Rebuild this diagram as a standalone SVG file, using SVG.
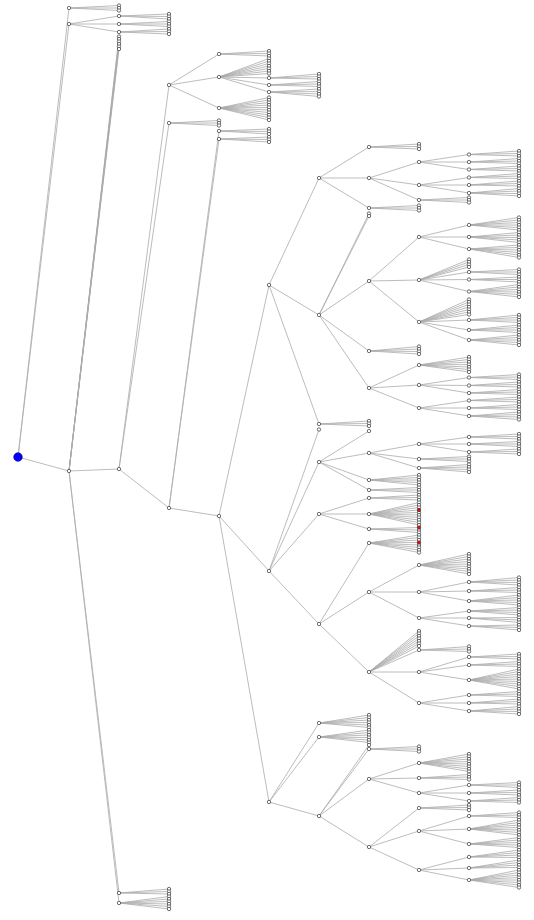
<svg xmlns="http://www.w3.org/2000/svg" width="534" height="920" viewBox="0 0 534 920">
<style>
.edges path{fill:none;stroke:#ababab;stroke-width:.8}
.nd{fill:#fff;stroke:#333;stroke-width:.7}
.nd .hit{fill:#ff0000}
</style>
<defs><circle id="n" r="1.7"/></defs>
<rect width="534" height="920" fill="#fff"/>
<!-- connectors: one path per parent, each subpath runs parent -> child -->
<g id="connectors" class="edges">
<path d="M18 457 69 8M18 457 69 24M18 457 69 471"/>
<path d="M69 8 119 5.5M69 8 119 8M69 8 119 10.5"/>
<path d="M69 24 119 16M69 24 119 24M69 24 119 32"/>
<path d="M69 471 119 36.5M69 471 119 39M69 471 119 41.5M69 471 119 44M69 471 119 46.5M69 471 119 49M69 471 119 469M69 471 119 893M69 471 119 903"/>
<path d="M119 16 169 14M119 16 169 16.5M119 16 169 19"/>
<path d="M119 24 169 21.5M119 24 169 24M119 24 169 26.5"/>
<path d="M119 32 169 29M119 32 169 31.5M119 32 169 34"/>
<path d="M119 469 169 85M119 469 169 123M119 469 169 508"/>
<path d="M119 893 169 889M119 893 169 891.5M119 893 169 894"/>
<path d="M119 903 169 896.5M119 903 169 899M119 903 169 901.5M119 903 169 904M119 903 169 906.5M119 903 169 909"/>
<path d="M169 85 219 54M169 85 219 77M169 85 219 108"/>
<path d="M169 123 219 120.5M169 123 219 123M169 123 219 125.5"/>
<path d="M169 508 219 131M169 508 219 139M169 508 219 516"/>
<path d="M219 54 269 51M219 54 269 53.5M219 54 269 56"/>
<path d="M219 77 269 58.5M219 77 269 61M219 77 269 63.5M219 77 269 66M219 77 269 68.5M219 77 269 71M219 77 269 73.5M219 77 269 78M219 77 269 85M219 77 269 92"/>
<path d="M219 108 269 97.5M219 108 269 100M219 108 269 102.5M219 108 269 105M219 108 269 107.5M219 108 269 110M219 108 269 112.5M219 108 269 115M219 108 269 117.5M219 108 269 120"/>
<path d="M219 131 269 129M219 131 269 131.5M219 131 269 134"/>
<path d="M219 139 269 137M219 139 269 139.5M219 139 269 142"/>
<path d="M269 78 319 74M269 78 319 76.5M269 78 319 79"/>
<path d="M269 85 319 81.5M269 85 319 84M269 85 319 86.5"/>
<path d="M269 92 319 89M269 92 319 91.5M269 92 319 94M269 92 319 96.5"/>
<path d="M219 516 269 285M219 516 269 571M219 516 269 802"/>
<path d="M269 285 319 178M269 285 319 315M269 285 319 424"/>
<path d="M269 571 319 429.5M269 571 319 462M269 571 319 514M269 571 319 624"/>
<path d="M269 802 319 723M269 802 319 737M269 802 319 816"/>
<path d="M319 178 369 147M319 178 369 178M319 178 369 208"/>
<path d="M319 315 369 213.5M319 315 369 216M319 315 369 281M319 315 369 351M319 315 369 388"/>
<path d="M319 424 369 421M319 424 369 423.5M319 424 369 426"/>
<path d="M319 462 369 431M319 462 369 453M319 462 369 480M319 462 369 490"/>
<path d="M319 514 369 498M319 514 369 514M319 514 369 529"/>
<path d="M319 624 369 543M319 624 369 592M319 624 369 672"/>
<path d="M319 723 369 715M319 723 369 717.5M319 723 369 720M319 723 369 722.5M319 723 369 725M319 723 369 727.5"/>
<path d="M319 737 369 730M319 737 369 732.5M319 737 369 735M319 737 369 737.5M319 737 369 740M319 737 369 742.5"/>
<path d="M319 816 369 745M319 816 369 749M319 816 369 779M319 816 369 847"/>
<path d="M369 147 419 144M369 147 419 146.5M369 147 419 149"/>
<path d="M369 178 419 162M369 178 419 185M369 178 419 200"/>
<path d="M369 208 419 205.5M369 208 419 208M369 208 419 210.5"/>
<path d="M369 281 419 237M369 281 419 280M369 281 419 322"/>
<path d="M369 351 419 346.5M369 351 419 349M369 351 419 351.5M369 351 419 354"/>
<path d="M369 388 419 365M369 388 419 385M369 388 419 408"/>
<path d="M369 453 419 444M369 453 419 459M369 453 419 468"/>
<path d="M369 480 419 475M369 480 419 477.5M369 480 419 480M369 480 419 482.5M369 480 419 485"/>
<path d="M369 490 419 487.5M369 490 419 490M369 490 419 492.5"/>
<path d="M369 498 419 495M369 498 419 497.5M369 498 419 500"/>
<path d="M369 514 419 502.5M369 514 419 505M369 514 419 507.5M369 514 419 510M369 514 419 512.5M369 514 419 515M369 514 419 517.5M369 514 419 520M369 514 419 522.5M369 514 419 525"/>
<path d="M369 529 419 527.5M369 529 419 530M369 529 419 532.5"/>
<path d="M369 543 419 535M369 543 419 537.5M369 543 419 540M369 543 419 542.5M369 543 419 545M369 543 419 547.5M369 543 419 550M369 543 419 552.5"/>
<path d="M369 592 419 565M369 592 419 592M369 592 419 618"/>
<path d="M369 672 419 631M369 672 419 633.5M369 672 419 636M369 672 419 638.5M369 672 419 641M369 672 419 643.5M369 672 419 646M369 672 419 650M369 672 419 672M369 672 419 703"/>
<path d="M369 749 419 746.5M369 749 419 749M369 749 419 751.5"/>
<path d="M369 779 419 763M369 779 419 778M369 779 419 793"/>
<path d="M369 847 419 808M369 847 419 831M369 847 419 870"/>
<path d="M419 162 469 154.5M419 162 469 162M419 162 469 169.5"/>
<path d="M419 185 469 177.5M419 185 469 185M419 185 469 193"/>
<path d="M419 200 469 197.5M419 200 469 200M419 200 469 202.5"/>
<path d="M419 237 469 225M419 237 469 237M419 237 469 249"/>
<path d="M419 280 469 259.5M419 280 469 262M419 280 469 264.5M419 280 469 267M419 280 469 272M419 280 469 279.5M419 280 469 291.5"/>
<path d="M419 322 469 299.5M419 322 469 302M419 322 469 304.5M419 322 469 307M419 322 469 309.5M419 322 469 312M419 322 469 314.5M419 322 469 320M419 322 469 330M419 322 469 340"/>
<path d="M419 365 469 357M419 365 469 359.5M419 365 469 362M419 365 469 364.5M419 365 469 367M419 365 469 369.5M419 365 469 372"/>
<path d="M419 385 469 377.5M419 385 469 385.5M419 385 469 393"/>
<path d="M419 408 469 400.5M419 408 469 408M419 408 469 416"/>
<path d="M419 444 469 437M419 444 469 444M419 444 469 452"/>
<path d="M419 459 469 456.5M419 459 469 459M419 459 469 461.5"/>
<path d="M419 468 469 464.5M419 468 469 467M419 468 469 469.5M419 468 469 472"/>
<path d="M419 565 469 554M419 565 469 556.5M419 565 469 559M419 565 469 561.5M419 565 469 564M419 565 469 566.5M419 565 469 569M419 565 469 571.5M419 565 469 574"/>
<path d="M419 592 469 582M419 592 469 591M419 592 469 601"/>
<path d="M419 618 469 611M419 618 469 618M419 618 469 626"/>
<path d="M419 650 469 646.5M419 650 469 649M419 650 469 651.5"/>
<path d="M419 672 469 657M419 672 469 665M419 672 469 680"/>
<path d="M419 703 469 695M419 703 469 703M419 703 469 711"/>
<path d="M419 763 469 754M419 763 469 756.5M419 763 469 759M419 763 469 761.5M419 763 469 764M419 763 469 766.5M419 763 469 769M419 763 469 771.5"/>
<path d="M419 778 469 774.5M419 778 469 777M419 778 469 779.5"/>
<path d="M419 793 469 785M419 793 469 793M419 793 469 801"/>
<path d="M419 808 469 805M419 808 469 807.5M419 808 469 810"/>
<path d="M419 831 469 816M419 831 469 829M419 831 469 844"/>
<path d="M419 870 469 857M419 870 469 868M419 870 469 880"/>
<path d="M469 154.5 519 151M469 154.5 519 153.5M469 154.5 519 156"/>
<path d="M469 162 519 158.5M469 162 519 161M469 162 519 163.5"/>
<path d="M469 169.5 519 166M469 169.5 519 168.5M469 169.5 519 171"/>
<path d="M469 177.5 519 173.5M469 177.5 519 176M469 177.5 519 178.5"/>
<path d="M469 185 519 181M469 185 519 183.5M469 185 519 186"/>
<path d="M469 193 519 188.5M469 193 519 191M469 193 519 193.5M469 193 519 196"/>
<path d="M469 225 519 217.5M469 225 519 220M469 225 519 222.5M469 225 519 225M469 225 519 227.5M469 225 519 230"/>
<path d="M469 237 519 232.5M469 237 519 235M469 237 519 237.5M469 237 519 240M469 237 519 242.5"/>
<path d="M469 249 519 245M469 249 519 247.5M469 249 519 250M469 249 519 252.5M469 249 519 255M469 249 519 257.5"/>
<path d="M469 272 519 269.5M469 272 519 272M469 272 519 274.5"/>
<path d="M469 279.5 519 277M469 279.5 519 279.5M469 279.5 519 282"/>
<path d="M469 291.5 519 284.5M469 291.5 519 287M469 291.5 519 289.5M469 291.5 519 292M469 291.5 519 294.5M469 291.5 519 297"/>
<path d="M469 320 519 315M469 320 519 317.5M469 320 519 320M469 320 519 322.5"/>
<path d="M469 330 519 325M469 330 519 327.5M469 330 519 330M469 330 519 332.5"/>
<path d="M469 340 519 335M469 340 519 337.5M469 340 519 340M469 340 519 342.5M469 340 519 345"/>
<path d="M469 377.5 519 374.5M469 377.5 519 377M469 377.5 519 379.5"/>
<path d="M469 385.5 519 382M469 385.5 519 384.5M469 385.5 519 387"/>
<path d="M469 393 519 389.5M469 393 519 392M469 393 519 394.5"/>
<path d="M469 400.5 519 397M469 400.5 519 399.5M469 400.5 519 402"/>
<path d="M469 408 519 404.5M469 408 519 407M469 408 519 409.5"/>
<path d="M469 416 519 412M469 416 519 414.5M469 416 519 417M469 416 519 419.5"/>
<path d="M469 437 519 434M469 437 519 436.5M469 437 519 439"/>
<path d="M469 444 519 441.5M469 444 519 444M469 444 519 446.5"/>
<path d="M469 452 519 449M469 452 519 451.5M469 452 519 454"/>
<path d="M469 582 519 577.5M469 582 519 580M469 582 519 582.5M469 582 519 585"/>
<path d="M469 591 519 587.5M469 591 519 590M469 591 519 592.5"/>
<path d="M469 601 519 595M469 601 519 597.5M469 601 519 600M469 601 519 602.5M469 601 519 605"/>
<path d="M469 611 519 607.5M469 611 519 610M469 611 519 612.5M469 611 519 615"/>
<path d="M469 618 519 617.5M469 618 519 620M469 618 519 622.5"/>
<path d="M469 626 519 625M469 626 519 627.5M469 626 519 630"/>
<path d="M469 657 519 654M469 657 519 656.5M469 657 519 659"/>
<path d="M469 665 519 661.5M469 665 519 664M469 665 519 666.5"/>
<path d="M469 680 519 669M469 680 519 671.5M469 680 519 674M469 680 519 676.5M469 680 519 679M469 680 519 681.5M469 680 519 684M469 680 519 686.5M469 680 519 689"/>
<path d="M469 695 519 691.5M469 695 519 694M469 695 519 696.5"/>
<path d="M469 703 519 699M469 703 519 701.5M469 703 519 704"/>
<path d="M469 711 519 706.5M469 711 519 709M469 711 519 711.5M469 711 519 714"/>
<path d="M469 785 519 782.5M469 785 519 785M469 785 519 787.5"/>
<path d="M469 793 519 790M469 793 519 792.5M469 793 519 795"/>
<path d="M469 801 519 797.5M469 801 519 800M469 801 519 802.5"/>
<path d="M469 816 519 812.5M469 816 519 815M469 816 519 817.5"/>
<path d="M469 829 519 820M469 829 519 822.5M469 829 519 825M469 829 519 827.5M469 829 519 830M469 829 519 832.5M469 829 519 835"/>
<path d="M469 844 519 837.5M469 844 519 840M469 844 519 842.5M469 844 519 845M469 844 519 847.5"/>
<path d="M469 857 519 850M469 857 519 852.5M469 857 519 855M469 857 519 857.5"/>
<path d="M469 868 519 860M469 868 519 862.5M469 868 519 865M469 868 519 867.5"/>
<path d="M469 880 519 870M469 880 519 872.5M469 880 519 875M469 880 519 877.5M469 880 519 880M469 880 519 882.5M469 880 519 885M469 880 519 887.5"/>
</g>
<!-- nodes -->
<g class="nd">
<g id="root"><circle cx="18" cy="457" r="4.3" fill="#0000ff" stroke="#00008b" stroke-width=".6"/></g>
<g id="A1"><use href="#n" x="69" y="8"/></g>
<g id="A2"><use href="#n" x="69" y="24"/></g>
<g id="A3"><use href="#n" x="69" y="471"/></g>
<g id="B1"><use href="#n" x="119" y="16"/></g>
<g id="B2"><use href="#n" x="119" y="24"/></g>
<g id="B3"><use href="#n" x="119" y="32"/></g>
<g id="C1"><use href="#n" x="119" y="469"/></g>
<g id="C2"><use href="#n" x="119" y="893"/></g>
<g id="C3"><use href="#n" x="119" y="903"/></g>
<g id="D1"><use href="#n" x="169" y="85"/></g>
<g id="D2"><use href="#n" x="169" y="123"/></g>
<g id="D3"><use href="#n" x="169" y="508"/></g>
<g id="E1"><use href="#n" x="219" y="54"/></g>
<g id="E2"><use href="#n" x="219" y="77"/></g>
<g id="E3"><use href="#n" x="219" y="108"/></g>
<g id="E4"><use href="#n" x="219" y="131"/></g>
<g id="E5"><use href="#n" x="219" y="139"/></g>
<g id="G0"><use href="#n" x="219" y="516"/></g>
<g id="F1"><use href="#n" x="269" y="78"/></g>
<g id="F2"><use href="#n" x="269" y="85"/></g>
<g id="F3"><use href="#n" x="269" y="92"/></g>
<g id="H1"><use href="#n" x="269" y="285"/></g>
<g id="H2"><use href="#n" x="269" y="571"/></g>
<g id="H3"><use href="#n" x="269" y="802"/></g>
<g id="I1"><use href="#n" x="319" y="178"/></g>
<g id="I2"><use href="#n" x="319" y="315"/></g>
<g id="I3"><use href="#n" x="319" y="424"/></g>
<g id="G1"><use href="#n" x="319" y="462"/></g>
<g id="G2"><use href="#n" x="319" y="514"/></g>
<g id="I4"><use href="#n" x="319" y="624"/></g>
<g id="I5"><use href="#n" x="319" y="723"/></g>
<g id="I6"><use href="#n" x="319" y="737"/></g>
<g id="I7"><use href="#n" x="319" y="816"/></g>
<g id="J1"><use href="#n" x="369" y="147"/></g>
<g id="J2"><use href="#n" x="369" y="178"/></g>
<g id="J3"><use href="#n" x="369" y="208"/></g>
<g id="J4"><use href="#n" x="369" y="281"/></g>
<g id="J5"><use href="#n" x="369" y="351"/></g>
<g id="J6"><use href="#n" x="369" y="388"/></g>
<g id="J7"><use href="#n" x="369" y="453"/></g>
<g id="J8"><use href="#n" x="369" y="480"/></g>
<g id="J9"><use href="#n" x="369" y="490"/></g>
<g id="J10"><use href="#n" x="369" y="498"/></g>
<g id="J11"><use href="#n" x="369" y="514"/></g>
<g id="J12"><use href="#n" x="369" y="529"/></g>
<g id="J13"><use href="#n" x="369" y="543"/></g>
<g id="J14"><use href="#n" x="369" y="592"/></g>
<g id="J15"><use href="#n" x="369" y="672"/></g>
<g id="J16"><use href="#n" x="369" y="749"/></g>
<g id="J17"><use href="#n" x="369" y="779"/></g>
<g id="J18"><use href="#n" x="369" y="847"/></g>
<g id="K1"><use href="#n" x="419" y="162"/></g>
<g id="K2"><use href="#n" x="419" y="185"/></g>
<g id="K3"><use href="#n" x="419" y="200"/></g>
<g id="K4"><use href="#n" x="419" y="237"/></g>
<g id="K5"><use href="#n" x="419" y="280"/></g>
<g id="K6"><use href="#n" x="419" y="322"/></g>
<g id="K7"><use href="#n" x="419" y="365"/></g>
<g id="K8"><use href="#n" x="419" y="385"/></g>
<g id="K9"><use href="#n" x="419" y="408"/></g>
<g id="K10"><use href="#n" x="419" y="444"/></g>
<g id="K11"><use href="#n" x="419" y="459"/></g>
<g id="K12"><use href="#n" x="419" y="468"/></g>
<g id="K13"><use href="#n" x="419" y="565"/></g>
<g id="K14"><use href="#n" x="419" y="592"/></g>
<g id="K15"><use href="#n" x="419" y="618"/></g>
<g id="K16"><use href="#n" x="419" y="650"/></g>
<g id="K17"><use href="#n" x="419" y="672"/></g>
<g id="K18"><use href="#n" x="419" y="703"/></g>
<g id="K19"><use href="#n" x="419" y="763"/></g>
<g id="K20"><use href="#n" x="419" y="778"/></g>
<g id="K21"><use href="#n" x="419" y="793"/></g>
<g id="K22"><use href="#n" x="419" y="808"/></g>
<g id="K23"><use href="#n" x="419" y="831"/></g>
<g id="K24"><use href="#n" x="419" y="870"/></g>
<g id="L1"><use href="#n" x="469" y="154.5"/></g>
<g id="L2"><use href="#n" x="469" y="162"/></g>
<g id="L3"><use href="#n" x="469" y="169.5"/></g>
<g id="L4"><use href="#n" x="469" y="177.5"/></g>
<g id="L5"><use href="#n" x="469" y="185"/></g>
<g id="L6"><use href="#n" x="469" y="193"/></g>
<g id="L7"><use href="#n" x="469" y="225"/></g>
<g id="L8"><use href="#n" x="469" y="237"/></g>
<g id="L9"><use href="#n" x="469" y="249"/></g>
<g id="L10"><use href="#n" x="469" y="272"/></g>
<g id="L11"><use href="#n" x="469" y="279.5"/></g>
<g id="L12"><use href="#n" x="469" y="291.5"/></g>
<g id="L13"><use href="#n" x="469" y="320"/></g>
<g id="L14"><use href="#n" x="469" y="330"/></g>
<g id="L15"><use href="#n" x="469" y="340"/></g>
<g id="L16"><use href="#n" x="469" y="377.5"/></g>
<g id="L17"><use href="#n" x="469" y="385.5"/></g>
<g id="L18"><use href="#n" x="469" y="393"/></g>
<g id="L19"><use href="#n" x="469" y="400.5"/></g>
<g id="L20"><use href="#n" x="469" y="408"/></g>
<g id="L21"><use href="#n" x="469" y="416"/></g>
<g id="L22"><use href="#n" x="469" y="437"/></g>
<g id="L23"><use href="#n" x="469" y="444"/></g>
<g id="L24"><use href="#n" x="469" y="452"/></g>
<g id="L25"><use href="#n" x="469" y="582"/></g>
<g id="L26"><use href="#n" x="469" y="591"/></g>
<g id="L27"><use href="#n" x="469" y="601"/></g>
<g id="L28"><use href="#n" x="469" y="611"/></g>
<g id="L29"><use href="#n" x="469" y="618"/></g>
<g id="L30"><use href="#n" x="469" y="626"/></g>
<g id="L31"><use href="#n" x="469" y="657"/></g>
<g id="L32"><use href="#n" x="469" y="665"/></g>
<g id="L33"><use href="#n" x="469" y="680"/></g>
<g id="L34"><use href="#n" x="469" y="695"/></g>
<g id="L35"><use href="#n" x="469" y="703"/></g>
<g id="L36"><use href="#n" x="469" y="711"/></g>
<g id="L37"><use href="#n" x="469" y="785"/></g>
<g id="L38"><use href="#n" x="469" y="793"/></g>
<g id="L39"><use href="#n" x="469" y="801"/></g>
<g id="L40"><use href="#n" x="469" y="816"/></g>
<g id="L41"><use href="#n" x="469" y="829"/></g>
<g id="L42"><use href="#n" x="469" y="844"/></g>
<g id="L43"><use href="#n" x="469" y="857"/></g>
<g id="L44"><use href="#n" x="469" y="868"/></g>
<g id="L45"><use href="#n" x="469" y="880"/></g>
<!-- leaf nodes, grouped by parent -->
<g id="leaves-A1" transform="translate(119)"><use href="#n" y="5.5"/><use href="#n" y="8"/><use href="#n" y="10.5"/></g>
<g id="leaves-A3" transform="translate(119)"><use href="#n" y="36.5"/><use href="#n" y="39"/><use href="#n" y="41.5"/><use href="#n" y="44"/><use href="#n" y="46.5"/><use href="#n" y="49"/></g>
<g id="leaves-B1" transform="translate(169)"><use href="#n" y="14"/><use href="#n" y="16.5"/><use href="#n" y="19"/></g>
<g id="leaves-B2" transform="translate(169)"><use href="#n" y="21.5"/><use href="#n" y="24"/><use href="#n" y="26.5"/></g>
<g id="leaves-B3" transform="translate(169)"><use href="#n" y="29"/><use href="#n" y="31.5"/><use href="#n" y="34"/></g>
<g id="leaves-C2" transform="translate(169)"><use href="#n" y="889"/><use href="#n" y="891.5"/><use href="#n" y="894"/></g>
<g id="leaves-C3" transform="translate(169)"><use href="#n" y="896.5"/><use href="#n" y="899"/><use href="#n" y="901.5"/><use href="#n" y="904"/><use href="#n" y="906.5"/><use href="#n" y="909"/></g>
<g id="leaves-D2" transform="translate(219)"><use href="#n" y="120.5"/><use href="#n" y="123"/><use href="#n" y="125.5"/></g>
<g id="leaves-E1" transform="translate(269)"><use href="#n" y="51"/><use href="#n" y="53.5"/><use href="#n" y="56"/></g>
<g id="leaves-E2" transform="translate(269)"><use href="#n" y="58.5"/><use href="#n" y="61"/><use href="#n" y="63.5"/><use href="#n" y="66"/><use href="#n" y="68.5"/><use href="#n" y="71"/><use href="#n" y="73.5"/></g>
<g id="leaves-E3" transform="translate(269)"><use href="#n" y="97.5"/><use href="#n" y="100"/><use href="#n" y="102.5"/><use href="#n" y="105"/><use href="#n" y="107.5"/><use href="#n" y="110"/><use href="#n" y="112.5"/><use href="#n" y="115"/><use href="#n" y="117.5"/><use href="#n" y="120"/></g>
<g id="leaves-E4" transform="translate(269)"><use href="#n" y="129"/><use href="#n" y="131.5"/><use href="#n" y="134"/></g>
<g id="leaves-E5" transform="translate(269)"><use href="#n" y="137"/><use href="#n" y="139.5"/><use href="#n" y="142"/></g>
<g id="leaves-F1" transform="translate(319)"><use href="#n" y="74"/><use href="#n" y="76.5"/><use href="#n" y="79"/></g>
<g id="leaves-F2" transform="translate(319)"><use href="#n" y="81.5"/><use href="#n" y="84"/><use href="#n" y="86.5"/></g>
<g id="leaves-F3" transform="translate(319)"><use href="#n" y="89"/><use href="#n" y="91.5"/><use href="#n" y="94"/><use href="#n" y="96.5"/></g>
<g id="leaves-H2" transform="translate(319)"><use href="#n" y="429.5"/></g>
<g id="leaves-I2" transform="translate(369)"><use href="#n" y="213.5"/><use href="#n" y="216"/></g>
<g id="leaves-I3" transform="translate(369)"><use href="#n" y="421"/><use href="#n" y="423.5"/><use href="#n" y="426"/></g>
<g id="leaves-G1" transform="translate(369)"><use href="#n" y="431"/></g>
<g id="leaves-I5" transform="translate(369)"><use href="#n" y="715"/><use href="#n" y="717.5"/><use href="#n" y="720"/><use href="#n" y="722.5"/><use href="#n" y="725"/><use href="#n" y="727.5"/></g>
<g id="leaves-I6" transform="translate(369)"><use href="#n" y="730"/><use href="#n" y="732.5"/><use href="#n" y="735"/><use href="#n" y="737.5"/><use href="#n" y="740"/><use href="#n" y="742.5"/></g>
<g id="leaves-I7" transform="translate(369)"><use href="#n" y="745"/></g>
<g id="leaves-J1" transform="translate(419)"><use href="#n" y="144"/><use href="#n" y="146.5"/><use href="#n" y="149"/></g>
<g id="leaves-J3" transform="translate(419)"><use href="#n" y="205.5"/><use href="#n" y="208"/><use href="#n" y="210.5"/></g>
<g id="leaves-J5" transform="translate(419)"><use href="#n" y="346.5"/><use href="#n" y="349"/><use href="#n" y="351.5"/><use href="#n" y="354"/></g>
<g id="leaves-J8" transform="translate(419)"><use href="#n" y="475"/><use href="#n" y="477.5"/><use href="#n" y="480"/><use href="#n" y="482.5"/><use href="#n" y="485"/></g>
<g id="leaves-J9" transform="translate(419)"><use href="#n" y="487.5"/><use href="#n" y="490"/><use href="#n" y="492.5"/></g>
<g id="leaves-J10" transform="translate(419)"><use href="#n" y="495"/><use href="#n" y="497.5"/><use href="#n" y="500"/></g>
<g id="leaves-J11" transform="translate(419)"><use href="#n" y="502.5"/><use href="#n" y="505"/><use href="#n" y="507.5"/><use href="#n" y="512.5"/><use href="#n" y="515"/><use href="#n" y="517.5"/><use href="#n" y="520"/><use href="#n" y="522.5"/><use href="#n" y="525"/><use href="#n" y="510" class="hit"/></g>
<g id="leaves-J12" transform="translate(419)"><use href="#n" y="530"/><use href="#n" y="532.5"/><use href="#n" y="527.5" class="hit"/></g>
<g id="leaves-J13" transform="translate(419)"><use href="#n" y="535"/><use href="#n" y="537.5"/><use href="#n" y="540"/><use href="#n" y="545"/><use href="#n" y="547.5"/><use href="#n" y="550"/><use href="#n" y="552.5"/><use href="#n" y="542.5" class="hit"/></g>
<g id="leaves-J15" transform="translate(419)"><use href="#n" y="631"/><use href="#n" y="633.5"/><use href="#n" y="636"/><use href="#n" y="638.5"/><use href="#n" y="641"/><use href="#n" y="643.5"/><use href="#n" y="646"/></g>
<g id="leaves-J16" transform="translate(419)"><use href="#n" y="746.5"/><use href="#n" y="749"/><use href="#n" y="751.5"/></g>
<g id="leaves-K3" transform="translate(469)"><use href="#n" y="197.5"/><use href="#n" y="200"/><use href="#n" y="202.5"/></g>
<g id="leaves-K5" transform="translate(469)"><use href="#n" y="259.5"/><use href="#n" y="262"/><use href="#n" y="264.5"/><use href="#n" y="267"/></g>
<g id="leaves-K6" transform="translate(469)"><use href="#n" y="299.5"/><use href="#n" y="302"/><use href="#n" y="304.5"/><use href="#n" y="307"/><use href="#n" y="309.5"/><use href="#n" y="312"/><use href="#n" y="314.5"/></g>
<g id="leaves-K7" transform="translate(469)"><use href="#n" y="357"/><use href="#n" y="359.5"/><use href="#n" y="362"/><use href="#n" y="364.5"/><use href="#n" y="367"/><use href="#n" y="369.5"/><use href="#n" y="372"/></g>
<g id="leaves-K11" transform="translate(469)"><use href="#n" y="456.5"/><use href="#n" y="459"/><use href="#n" y="461.5"/></g>
<g id="leaves-K12" transform="translate(469)"><use href="#n" y="464.5"/><use href="#n" y="467"/><use href="#n" y="469.5"/><use href="#n" y="472"/></g>
<g id="leaves-K13" transform="translate(469)"><use href="#n" y="554"/><use href="#n" y="556.5"/><use href="#n" y="559"/><use href="#n" y="561.5"/><use href="#n" y="564"/><use href="#n" y="566.5"/><use href="#n" y="569"/><use href="#n" y="571.5"/><use href="#n" y="574"/></g>
<g id="leaves-K16" transform="translate(469)"><use href="#n" y="646.5"/><use href="#n" y="649"/><use href="#n" y="651.5"/></g>
<g id="leaves-K19" transform="translate(469)"><use href="#n" y="754"/><use href="#n" y="756.5"/><use href="#n" y="759"/><use href="#n" y="761.5"/><use href="#n" y="764"/><use href="#n" y="766.5"/><use href="#n" y="769"/><use href="#n" y="771.5"/></g>
<g id="leaves-K20" transform="translate(469)"><use href="#n" y="774.5"/><use href="#n" y="777"/><use href="#n" y="779.5"/></g>
<g id="leaves-K22" transform="translate(469)"><use href="#n" y="805"/><use href="#n" y="807.5"/><use href="#n" y="810"/></g>
<g id="leaves-L1-L6" transform="translate(519)"><use href="#n" y="151"/><use href="#n" y="153.5"/><use href="#n" y="156"/><use href="#n" y="158.5"/><use href="#n" y="161"/><use href="#n" y="163.5"/><use href="#n" y="166"/><use href="#n" y="168.5"/><use href="#n" y="171"/><use href="#n" y="173.5"/><use href="#n" y="176"/><use href="#n" y="178.5"/><use href="#n" y="181"/><use href="#n" y="183.5"/><use href="#n" y="186"/><use href="#n" y="188.5"/><use href="#n" y="191"/><use href="#n" y="193.5"/><use href="#n" y="196"/></g>
<g id="leaves-L7-L9" transform="translate(519)"><use href="#n" y="217.5"/><use href="#n" y="220"/><use href="#n" y="222.5"/><use href="#n" y="225"/><use href="#n" y="227.5"/><use href="#n" y="230"/><use href="#n" y="232.5"/><use href="#n" y="235"/><use href="#n" y="237.5"/><use href="#n" y="240"/><use href="#n" y="242.5"/><use href="#n" y="245"/><use href="#n" y="247.5"/><use href="#n" y="250"/><use href="#n" y="252.5"/><use href="#n" y="255"/><use href="#n" y="257.5"/></g>
<g id="leaves-L10-L12" transform="translate(519)"><use href="#n" y="269.5"/><use href="#n" y="272"/><use href="#n" y="274.5"/><use href="#n" y="277"/><use href="#n" y="279.5"/><use href="#n" y="282"/><use href="#n" y="284.5"/><use href="#n" y="287"/><use href="#n" y="289.5"/><use href="#n" y="292"/><use href="#n" y="294.5"/><use href="#n" y="297"/></g>
<g id="leaves-L13-L15" transform="translate(519)"><use href="#n" y="315"/><use href="#n" y="317.5"/><use href="#n" y="320"/><use href="#n" y="322.5"/><use href="#n" y="325"/><use href="#n" y="327.5"/><use href="#n" y="330"/><use href="#n" y="332.5"/><use href="#n" y="335"/><use href="#n" y="337.5"/><use href="#n" y="340"/><use href="#n" y="342.5"/><use href="#n" y="345"/></g>
<g id="leaves-L16-L21" transform="translate(519)"><use href="#n" y="374.5"/><use href="#n" y="377"/><use href="#n" y="379.5"/><use href="#n" y="382"/><use href="#n" y="384.5"/><use href="#n" y="387"/><use href="#n" y="389.5"/><use href="#n" y="392"/><use href="#n" y="394.5"/><use href="#n" y="397"/><use href="#n" y="399.5"/><use href="#n" y="402"/><use href="#n" y="404.5"/><use href="#n" y="407"/><use href="#n" y="409.5"/><use href="#n" y="412"/><use href="#n" y="414.5"/><use href="#n" y="417"/><use href="#n" y="419.5"/></g>
<g id="leaves-L22-L24" transform="translate(519)"><use href="#n" y="434"/><use href="#n" y="436.5"/><use href="#n" y="439"/><use href="#n" y="441.5"/><use href="#n" y="444"/><use href="#n" y="446.5"/><use href="#n" y="449"/><use href="#n" y="451.5"/><use href="#n" y="454"/></g>
<g id="leaves-L25-L30" transform="translate(519)"><use href="#n" y="577.5"/><use href="#n" y="580"/><use href="#n" y="582.5"/><use href="#n" y="585"/><use href="#n" y="587.5"/><use href="#n" y="590"/><use href="#n" y="592.5"/><use href="#n" y="595"/><use href="#n" y="597.5"/><use href="#n" y="600"/><use href="#n" y="602.5"/><use href="#n" y="605"/><use href="#n" y="607.5"/><use href="#n" y="610"/><use href="#n" y="612.5"/><use href="#n" y="615"/><use href="#n" y="617.5"/><use href="#n" y="620"/><use href="#n" y="622.5"/><use href="#n" y="625"/><use href="#n" y="627.5"/><use href="#n" y="630"/></g>
<g id="leaves-L31-L36" transform="translate(519)"><use href="#n" y="654"/><use href="#n" y="656.5"/><use href="#n" y="659"/><use href="#n" y="661.5"/><use href="#n" y="664"/><use href="#n" y="666.5"/><use href="#n" y="669"/><use href="#n" y="671.5"/><use href="#n" y="674"/><use href="#n" y="676.5"/><use href="#n" y="679"/><use href="#n" y="681.5"/><use href="#n" y="684"/><use href="#n" y="686.5"/><use href="#n" y="689"/><use href="#n" y="691.5"/><use href="#n" y="694"/><use href="#n" y="696.5"/><use href="#n" y="699"/><use href="#n" y="701.5"/><use href="#n" y="704"/><use href="#n" y="706.5"/><use href="#n" y="709"/><use href="#n" y="711.5"/><use href="#n" y="714"/></g>
<g id="leaves-L37-L39" transform="translate(519)"><use href="#n" y="782.5"/><use href="#n" y="785"/><use href="#n" y="787.5"/><use href="#n" y="790"/><use href="#n" y="792.5"/><use href="#n" y="795"/><use href="#n" y="797.5"/><use href="#n" y="800"/><use href="#n" y="802.5"/></g>
<g id="leaves-L40-L45" transform="translate(519)"><use href="#n" y="812.5"/><use href="#n" y="815"/><use href="#n" y="817.5"/><use href="#n" y="820"/><use href="#n" y="822.5"/><use href="#n" y="825"/><use href="#n" y="827.5"/><use href="#n" y="830"/><use href="#n" y="832.5"/><use href="#n" y="835"/><use href="#n" y="837.5"/><use href="#n" y="840"/><use href="#n" y="842.5"/><use href="#n" y="845"/><use href="#n" y="847.5"/><use href="#n" y="850"/><use href="#n" y="852.5"/><use href="#n" y="855"/><use href="#n" y="857.5"/><use href="#n" y="860"/><use href="#n" y="862.5"/><use href="#n" y="865"/><use href="#n" y="867.5"/><use href="#n" y="870"/><use href="#n" y="872.5"/><use href="#n" y="875"/><use href="#n" y="877.5"/><use href="#n" y="880"/><use href="#n" y="882.5"/><use href="#n" y="885"/><use href="#n" y="887.5"/></g>
</g>
</svg>
